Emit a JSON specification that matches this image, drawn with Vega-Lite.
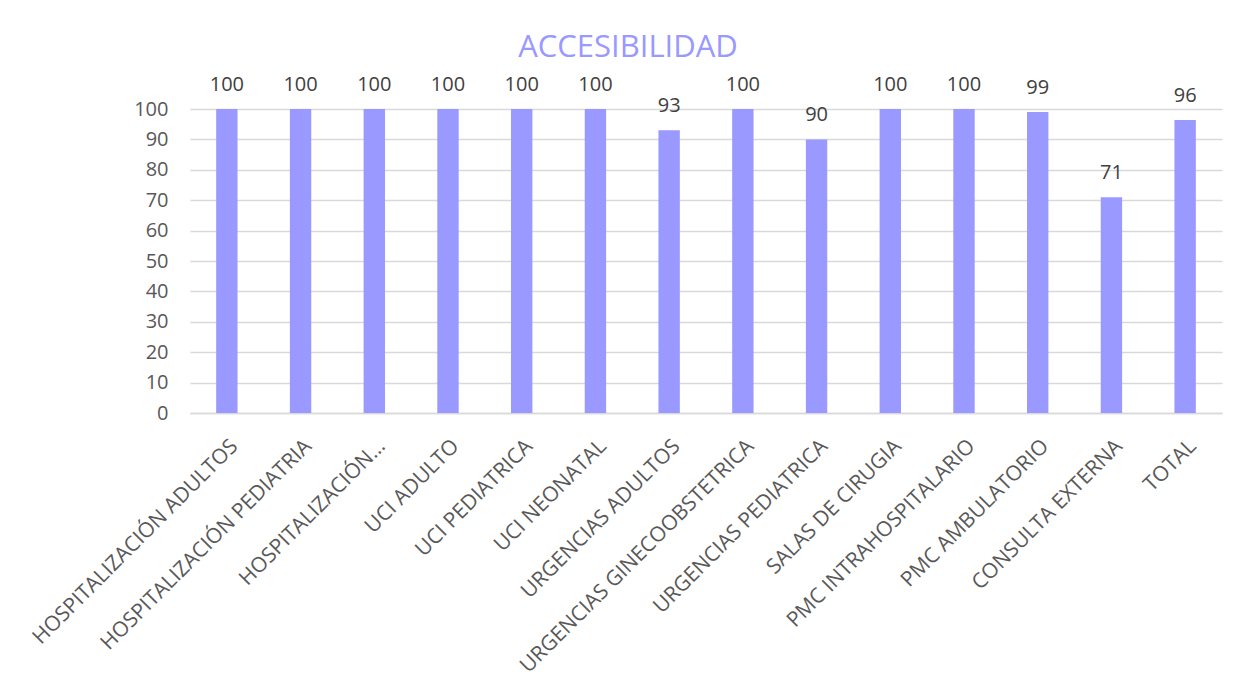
{
  "$schema": "https://vega.github.io/schema/vega-lite/v6.json",
  "width": 1032,
  "height": 304,
  "autosize": {"type": "none"},
  "padding": {"left": 190, "top": 109, "right": 29, "bottom": 274},
  "background": "white",
  "title": {
    "text": "ACCESIBILIDAD",
    "font": "Open Sans",
    "fontSize": 31,
    "fontWeight": "normal",
    "color": "#9999FF",
    "anchor": "middle",
    "dx": -78,
    "offset": 11
  },
  "data": {
    "values": [
      {"servicio": "HOSPITALIZACIÓN ADULTOS", "valor": 100},
      {"servicio": "HOSPITALIZACIÓN PEDIATRIA", "valor": 100},
      {"servicio": "HOSPITALIZACIÓN…", "valor": 100},
      {"servicio": "UCI ADULTO", "valor": 100},
      {"servicio": "UCI PEDIATRICA", "valor": 100},
      {"servicio": "UCI NEONATAL", "valor": 100},
      {"servicio": "URGENCIAS ADULTOS", "valor": 93},
      {"servicio": "URGENCIAS GINECOOBSTETRICA", "valor": 100},
      {"servicio": "URGENCIAS PEDIATRICA", "valor": 90},
      {"servicio": "SALAS DE CIRUGIA", "valor": 100},
      {"servicio": "PMC INTRAHOSPITALARIO", "valor": 100},
      {"servicio": "PMC AMBULATORIO", "valor": 99},
      {"servicio": "CONSULTA EXTERNA", "valor": 71},
      {"servicio": "TOTAL", "valor": 96.4}
    ]
  },
  "encoding": {
    "x": {
      "field": "servicio",
      "type": "nominal",
      "sort": null,
      "scale": {"paddingInner": 0.71, "paddingOuter": 0.355},
      "axis": {
        "title": null,
        "labelAngle": -45,
        "labelFont": "Open Sans",
        "labelFontSize": 21,
        "labelColor": "#595959",
        "labelPadding": 22,
        "labelLimit": 400,
        "ticks": false,
        "domainColor": "#d9d9d9",
        "domainWidth": 1.5
      }
    },
    "y": {
      "field": "valor",
      "type": "quantitative",
      "scale": {"domain": [0, 100]},
      "axis": {
        "title": null,
        "values": [0, 10, 20, 30, 40, 50, 60, 70, 80, 90, 100],
        "labelFont": "Open Sans",
        "labelFontSize": 20,
        "labelColor": "#595959",
        "labelPadding": 22,
        "ticks": false,
        "domain": false,
        "gridColor": "#d9d9d9",
        "gridWidth": 1.5
      }
    }
  },
  "layer": [
    {"mark": {"type": "bar", "color": "#9999FF"}},
    {
      "mark": {
        "type": "text",
        "baseline": "bottom",
        "dy": -14,
        "font": "Open Sans",
        "fontSize": 20,
        "color": "#404040"
      },
      "encoding": {"text": {"field": "valor", "type": "quantitative", "format": ".0f"}}
    }
  ],
  "config": {"view": {"stroke": null}}
}
